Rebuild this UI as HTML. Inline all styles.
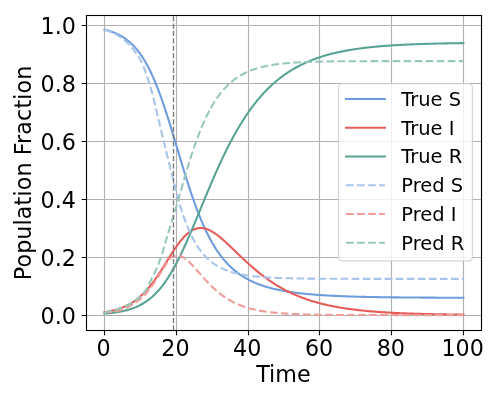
<!DOCTYPE html>
<html><head><meta charset="utf-8"><title>SIR</title>
<style>html,body{margin:0;padding:0;background:#fff;width:500px;height:400px;overflow:hidden}</style>
</head><body>
<svg width="500" height="400" viewBox="0 0 500 400" style="display:block;position:absolute;left:0;top:0">
<rect x="0" y="0" width="500" height="400" fill="#fff"/>
<path d="M104.50 15.5 V330.5 M176.50 15.5 V330.5 M248.50 15.5 V330.5 M319.50 15.5 V330.5 M391.50 15.5 V330.5 M463.50 15.5 V330.5 M86.5 315.50 H481.5 M86.5 257.50 H481.5 M86.5 199.50 H481.5 M86.5 141.50 H481.5 M86.5 83.50 H481.5 M86.5 25.50 H481.5" stroke="#b0b0b0" stroke-width="1.11" fill="none"/>
<path d="M104.50 330.5 v4.86 M176.50 330.5 v4.86 M248.50 330.5 v4.86 M319.50 330.5 v4.86 M391.50 330.5 v4.86 M463.50 330.5 v4.86 M86.5 315.50 h-4.86 M86.5 257.50 h-4.86 M86.5 199.50 h-4.86 M86.5 141.50 h-4.86 M86.5 83.50 h-4.86 M86.5 25.50 h-4.86" stroke="#000" stroke-width="1.11" fill="none"/>
<clipPath id="c"><rect x="86.5" y="15.5" width="395.0" height="315.0"/></clipPath>
<g clip-path="url(#c)" fill="none" stroke-linejoin="round">
<path d="M104.45 29.65 L105.35 29.87 L106.25 30.10 L107.14 30.34 L108.04 30.59 L108.94 30.86 L109.84 31.14 L110.73 31.43 L111.63 31.73 L112.53 32.05 L113.42 32.39 L114.32 32.74 L115.22 33.11 L116.12 33.50 L117.02 33.91 L117.91 34.33 L118.81 34.78 L119.71 35.24 L120.61 35.73 L121.50 36.24 L122.40 36.77 L123.30 37.33 L124.19 37.92 L125.09 38.53 L125.99 39.17 L126.89 39.83 L127.78 40.53 L128.68 41.26 L129.58 42.02 L130.48 42.81 L131.38 43.64 L132.27 44.51 L133.17 45.41 L134.07 46.34 L134.97 47.32 L135.86 48.34 L136.76 49.40 L137.66 50.50 L138.56 51.65 L139.45 52.84 L140.35 54.08 L141.25 55.37 L142.15 56.70 L143.04 58.09 L143.94 59.52 L144.84 61.01 L145.74 62.55 L146.63 64.14 L147.53 65.79 L148.43 67.50 L149.32 69.25 L150.22 71.07 L151.12 72.94 L152.02 74.87 L152.91 76.85 L153.81 78.89 L154.71 80.99 L155.61 83.14 L156.50 85.35 L157.40 87.62 L158.30 89.94 L159.20 92.31 L160.09 94.74 L160.99 97.21 L161.89 99.74 L162.79 102.32 L163.69 104.94 L164.58 107.60 L165.48 110.31 L166.38 113.06 L167.28 115.84 L168.17 118.66 L169.07 121.52 L169.97 124.40 L170.87 127.31 L171.76 130.24 L172.66 133.19 L173.56 136.17 L174.45 139.15 L175.35 142.14 L176.25 145.15 L177.15 148.15 L178.05 151.16 L178.94 154.16 L179.84 157.16 L180.74 160.15 L181.63 163.12 L182.53 166.08 L183.43 169.03 L184.33 171.95 L185.22 174.84 L186.12 177.71 L187.02 180.55 L187.92 183.36 L188.81 186.14 L189.71 188.88 L190.61 191.58 L191.51 194.24 L192.41 196.86 L193.30 199.44 L194.20 201.98 L195.10 204.47 L196.00 206.91 L196.89 209.31 L197.79 211.66 L198.69 213.96 L199.58 216.21 L200.48 218.41 L201.38 220.57 L202.28 222.67 L203.18 224.73 L204.07 226.74 L204.97 228.70 L205.87 230.61 L206.76 232.47 L207.66 234.28 L208.56 236.05 L209.46 237.77 L210.36 239.45 L211.25 241.08 L212.15 242.66 L213.05 244.21 L213.94 245.71 L214.84 247.16 L215.74 248.58 L216.64 249.96 L217.53 251.30 L218.43 252.59 L219.33 253.86 L220.23 255.08 L221.12 256.27 L222.02 257.42 L222.92 258.54 L223.82 259.63 L224.72 260.69 L225.61 261.71 L226.51 262.71 L227.41 263.67 L228.31 264.61 L229.20 265.51 L230.10 266.39 L231.00 267.25 L231.89 268.08 L232.79 268.88 L233.69 269.66 L234.59 270.42 L235.49 271.16 L236.38 271.87 L237.28 272.56 L238.18 273.23 L239.07 273.88 L239.97 274.52 L240.87 275.13 L241.77 275.73 L242.67 276.30 L243.56 276.87 L244.46 277.41 L245.36 277.94 L246.25 278.45 L247.15 278.95 L248.05 279.44 L248.95 279.91 L249.84 280.37 L250.74 280.81 L251.64 281.24 L252.54 281.66 L253.44 282.07 L254.33 282.47 L255.23 282.85 L256.13 283.22 L257.02 283.59 L257.92 283.94 L258.82 284.29 L259.72 284.62 L260.62 284.94 L261.51 285.26 L262.41 285.57 L263.31 285.87 L264.20 286.16 L265.10 286.44 L266.00 286.72 L266.90 286.98 L267.80 287.25 L268.69 287.50 L269.59 287.75 L270.49 287.99 L271.38 288.22 L272.28 288.45 L273.18 288.67 L274.08 288.89 L274.98 289.10 L275.87 289.30 L276.77 289.50 L277.67 289.70 L278.56 289.89 L279.46 290.07 L280.36 290.25 L281.26 290.43 L282.15 290.60 L283.05 290.77 L283.95 290.93 L284.85 291.09 L285.75 291.24 L286.64 291.39 L287.54 291.54 L288.44 291.68 L289.33 291.82 L290.23 291.96 L291.13 292.09 L292.03 292.22 L292.93 292.35 L293.82 292.47 L294.72 292.59 L295.62 292.71 L296.51 292.83 L297.41 292.94 L298.31 293.05 L299.21 293.16 L300.11 293.26 L301.00 293.36 L301.90 293.46 L302.80 293.56 L303.69 293.65 L304.59 293.74 L305.49 293.83 L306.39 293.92 L307.28 294.01 L308.18 294.09 L309.08 294.18 L309.98 294.26 L310.88 294.33 L311.77 294.41 L312.67 294.49 L313.57 294.56 L314.46 294.63 L315.36 294.70 L316.26 294.77 L317.16 294.83 L318.06 294.90 L318.95 294.96 L319.85 295.03 L320.75 295.09 L321.64 295.15 L322.54 295.20 L323.44 295.26 L324.34 295.32 L325.24 295.37 L326.13 295.42 L327.03 295.48 L327.93 295.53 L328.82 295.58 L329.72 295.62 L330.62 295.67 L331.52 295.72 L332.42 295.76 L333.31 295.81 L334.21 295.85 L335.11 295.89 L336.00 295.94 L336.90 295.98 L337.80 296.02 L338.70 296.05 L339.59 296.09 L340.49 296.13 L341.39 296.17 L342.29 296.20 L343.19 296.24 L344.08 296.27 L344.98 296.30 L345.88 296.34 L346.77 296.37 L347.67 296.40 L348.57 296.43 L349.47 296.46 L350.37 296.49 L351.26 296.52 L352.16 296.54 L353.06 296.57 L353.95 296.60 L354.85 296.63 L355.75 296.65 L356.65 296.68 L357.55 296.70 L358.44 296.72 L359.34 296.75 L360.24 296.77 L361.13 296.79 L362.03 296.82 L362.93 296.84 L363.83 296.86 L364.72 296.88 L365.62 296.90 L366.52 296.92 L367.42 296.94 L368.31 296.96 L369.21 296.98 L370.11 296.99 L371.01 297.01 L371.90 297.03 L372.80 297.05 L373.70 297.06 L374.60 297.08 L375.50 297.10 L376.39 297.11 L377.29 297.13 L378.19 297.14 L379.08 297.16 L379.98 297.17 L380.88 297.18 L381.78 297.20 L382.67 297.21 L383.57 297.22 L384.47 297.24 L385.37 297.25 L386.26 297.26 L387.16 297.28 L388.06 297.29 L388.96 297.30 L389.85 297.31 L390.75 297.32 L391.65 297.33 L392.55 297.34 L393.44 297.35 L394.34 297.36 L395.24 297.37 L396.14 297.38 L397.03 297.39 L397.93 297.40 L398.83 297.41 L399.73 297.42 L400.62 297.43 L401.52 297.44 L402.42 297.45 L403.32 297.46 L404.21 297.46 L405.11 297.47 L406.01 297.48 L406.91 297.49 L407.80 297.49 L408.70 297.50 L409.60 297.51 L410.50 297.52 L411.39 297.52 L412.29 297.53 L413.19 297.54 L414.09 297.54 L414.98 297.55 L415.88 297.56 L416.78 297.56 L417.68 297.57 L418.57 297.57 L419.47 297.58 L420.37 297.58 L421.27 297.59 L422.16 297.60 L423.06 297.60 L423.96 297.61 L424.86 297.61 L425.75 297.62 L426.65 297.62 L427.55 297.63 L428.45 297.63 L429.34 297.63 L430.24 297.64 L431.14 297.64 L432.04 297.65 L432.94 297.65 L433.83 297.66 L434.73 297.66 L435.63 297.66 L436.52 297.67 L437.42 297.67 L438.32 297.68 L439.22 297.68 L440.11 297.68 L441.01 297.69 L441.91 297.69 L442.81 297.69 L443.70 297.70 L444.60 297.70 L445.50 297.70 L446.40 297.71 L447.29 297.71 L448.19 297.71 L449.09 297.71 L449.99 297.72 L450.88 297.72 L451.78 297.72 L452.68 297.73 L453.58 297.73 L454.47 297.73 L455.37 297.73 L456.27 297.74 L457.17 297.74 L458.06 297.74 L458.96 297.74 L459.86 297.74 L460.76 297.75 L461.65 297.75 L462.55 297.75 L463.45 297.75" stroke="#6e9cdc" stroke-width="2.08" stroke-linecap="square"/>
<path d="M104.45 312.20 L105.35 312.06 L106.25 311.90 L107.14 311.75 L108.04 311.58 L108.94 311.40 L109.84 311.22 L110.73 311.03 L111.63 310.82 L112.53 310.61 L113.42 310.39 L114.32 310.16 L115.22 309.92 L116.12 309.66 L117.02 309.39 L117.91 309.12 L118.81 308.82 L119.71 308.52 L120.61 308.20 L121.50 307.87 L122.40 307.52 L123.30 307.15 L124.19 306.77 L125.09 306.37 L125.99 305.96 L126.89 305.53 L127.78 305.07 L128.68 304.60 L129.58 304.11 L130.48 303.60 L131.38 303.06 L132.27 302.51 L133.17 301.93 L134.07 301.33 L134.97 300.70 L135.86 300.05 L136.76 299.38 L137.66 298.67 L138.56 297.95 L139.45 297.19 L140.35 296.41 L141.25 295.60 L142.15 294.77 L143.04 293.90 L143.94 293.01 L144.84 292.08 L145.74 291.13 L146.63 290.15 L147.53 289.13 L148.43 288.09 L149.32 287.02 L150.22 285.93 L151.12 284.80 L152.02 283.64 L152.91 282.46 L153.81 281.25 L154.71 280.01 L155.61 278.75 L156.50 277.47 L157.40 276.16 L158.30 274.83 L159.20 273.48 L160.09 272.11 L160.99 270.73 L161.89 269.33 L162.79 267.91 L163.69 266.49 L164.58 265.06 L165.48 263.62 L166.38 262.18 L167.28 260.73 L168.17 259.29 L169.07 257.85 L169.97 256.41 L170.87 254.99 L171.76 253.58 L172.66 252.18 L173.56 250.80 L174.45 249.44 L175.35 248.11 L176.25 246.80 L177.15 245.51 L178.05 244.26 L178.94 243.04 L179.84 241.86 L180.74 240.72 L181.63 239.62 L182.53 238.56 L183.43 237.54 L184.33 236.57 L185.22 235.65 L186.12 234.78 L187.02 233.95 L187.92 233.18 L188.81 232.47 L189.71 231.80 L190.61 231.19 L191.51 230.63 L192.41 230.13 L193.30 229.68 L194.20 229.29 L195.10 228.95 L196.00 228.66 L196.89 228.43 L197.79 228.25 L198.69 228.12 L199.58 228.04 L200.48 228.02 L201.38 228.04 L202.28 228.11 L203.18 228.22 L204.07 228.39 L204.97 228.59 L205.87 228.84 L206.76 229.13 L207.66 229.46 L208.56 229.83 L209.46 230.24 L210.36 230.68 L211.25 231.15 L212.15 231.66 L213.05 232.20 L213.94 232.76 L214.84 233.36 L215.74 233.97 L216.64 234.62 L217.53 235.28 L218.43 235.97 L219.33 236.68 L220.23 237.41 L221.12 238.15 L222.02 238.91 L222.92 239.69 L223.82 240.47 L224.72 241.27 L225.61 242.09 L226.51 242.91 L227.41 243.74 L228.31 244.57 L229.20 245.42 L230.10 246.27 L231.00 247.13 L231.89 247.98 L232.79 248.85 L233.69 249.71 L234.59 250.58 L235.49 251.45 L236.38 252.31 L237.28 253.18 L238.18 254.05 L239.07 254.91 L239.97 255.77 L240.87 256.63 L241.77 257.48 L242.67 258.34 L243.56 259.18 L244.46 260.03 L245.36 260.86 L246.25 261.69 L247.15 262.52 L248.05 263.34 L248.95 264.15 L249.84 264.96 L250.74 265.76 L251.64 266.55 L252.54 267.33 L253.44 268.11 L254.33 268.88 L255.23 269.64 L256.13 270.39 L257.02 271.14 L257.92 271.88 L258.82 272.60 L259.72 273.32 L260.62 274.03 L261.51 274.73 L262.41 275.43 L263.31 276.11 L264.20 276.79 L265.10 277.45 L266.00 278.11 L266.90 278.76 L267.80 279.40 L268.69 280.03 L269.59 280.65 L270.49 281.26 L271.38 281.87 L272.28 282.46 L273.18 283.05 L274.08 283.63 L274.98 284.20 L275.87 284.76 L276.77 285.31 L277.67 285.85 L278.56 286.39 L279.46 286.91 L280.36 287.43 L281.26 287.94 L282.15 288.44 L283.05 288.94 L283.95 289.42 L284.85 289.90 L285.75 290.37 L286.64 290.83 L287.54 291.28 L288.44 291.73 L289.33 292.17 L290.23 292.60 L291.13 293.02 L292.03 293.44 L292.93 293.85 L293.82 294.25 L294.72 294.65 L295.62 295.04 L296.51 295.42 L297.41 295.79 L298.31 296.16 L299.21 296.53 L300.11 296.88 L301.00 297.23 L301.90 297.57 L302.80 297.91 L303.69 298.24 L304.59 298.57 L305.49 298.89 L306.39 299.20 L307.28 299.51 L308.18 299.81 L309.08 300.10 L309.98 300.40 L310.88 300.68 L311.77 300.96 L312.67 301.24 L313.57 301.51 L314.46 301.77 L315.36 302.03 L316.26 302.29 L317.16 302.54 L318.06 302.78 L318.95 303.03 L319.85 303.26 L320.75 303.49 L321.64 303.72 L322.54 303.95 L323.44 304.16 L324.34 304.38 L325.24 304.59 L326.13 304.80 L327.03 305.00 L327.93 305.20 L328.82 305.40 L329.72 305.59 L330.62 305.78 L331.52 305.96 L332.42 306.14 L333.31 306.32 L334.21 306.49 L335.11 306.66 L336.00 306.83 L336.90 306.99 L337.80 307.16 L338.70 307.31 L339.59 307.47 L340.49 307.62 L341.39 307.77 L342.29 307.91 L343.19 308.06 L344.08 308.20 L344.98 308.34 L345.88 308.47 L346.77 308.60 L347.67 308.73 L348.57 308.86 L349.47 308.98 L350.37 309.11 L351.26 309.23 L352.16 309.34 L353.06 309.46 L353.95 309.57 L354.85 309.68 L355.75 309.79 L356.65 309.90 L357.55 310.00 L358.44 310.10 L359.34 310.20 L360.24 310.30 L361.13 310.40 L362.03 310.49 L362.93 310.58 L363.83 310.68 L364.72 310.76 L365.62 310.85 L366.52 310.94 L367.42 311.02 L368.31 311.10 L369.21 311.18 L370.11 311.26 L371.01 311.34 L371.90 311.41 L372.80 311.49 L373.70 311.56 L374.60 311.63 L375.50 311.70 L376.39 311.77 L377.29 311.84 L378.19 311.90 L379.08 311.97 L379.98 312.03 L380.88 312.09 L381.78 312.15 L382.67 312.21 L383.57 312.27 L384.47 312.33 L385.37 312.38 L386.26 312.44 L387.16 312.49 L388.06 312.54 L388.96 312.60 L389.85 312.65 L390.75 312.70 L391.65 312.75 L392.55 312.79 L393.44 312.84 L394.34 312.88 L395.24 312.93 L396.14 312.97 L397.03 313.02 L397.93 313.06 L398.83 313.10 L399.73 313.14 L400.62 313.18 L401.52 313.22 L402.42 313.26 L403.32 313.29 L404.21 313.33 L405.11 313.37 L406.01 313.40 L406.91 313.44 L407.80 313.47 L408.70 313.50 L409.60 313.53 L410.50 313.57 L411.39 313.60 L412.29 313.63 L413.19 313.66 L414.09 313.69 L414.98 313.72 L415.88 313.74 L416.78 313.77 L417.68 313.80 L418.57 313.82 L419.47 313.85 L420.37 313.88 L421.27 313.90 L422.16 313.92 L423.06 313.95 L423.96 313.97 L424.86 313.99 L425.75 314.02 L426.65 314.04 L427.55 314.06 L428.45 314.08 L429.34 314.10 L430.24 314.12 L431.14 314.14 L432.04 314.16 L432.94 314.18 L433.83 314.20 L434.73 314.22 L435.63 314.24 L436.52 314.25 L437.42 314.27 L438.32 314.29 L439.22 314.30 L440.11 314.32 L441.01 314.34 L441.91 314.35 L442.81 314.37 L443.70 314.38 L444.60 314.40 L445.50 314.41 L446.40 314.42 L447.29 314.44 L448.19 314.45 L449.09 314.46 L449.99 314.48 L450.88 314.49 L451.78 314.50 L452.68 314.51 L453.58 314.53 L454.47 314.54 L455.37 314.55 L456.27 314.56 L457.17 314.57 L458.06 314.58 L458.96 314.59 L459.86 314.60 L460.76 314.61 L461.65 314.62 L462.55 314.63 L463.45 314.64" stroke="#e65c58" stroke-width="2.08" stroke-linecap="square"/>
<path d="M104.45 313.65 L105.35 313.58 L106.25 313.50 L107.14 313.42 L108.04 313.33 L108.94 313.24 L109.84 313.15 L110.73 313.05 L111.63 312.94 L112.53 312.83 L113.42 312.72 L114.32 312.60 L115.22 312.47 L116.12 312.34 L117.02 312.20 L117.91 312.05 L118.81 311.90 L119.71 311.74 L120.61 311.57 L121.50 311.39 L122.40 311.21 L123.30 311.01 L124.19 310.81 L125.09 310.60 L125.99 310.37 L126.89 310.14 L127.78 309.90 L128.68 309.64 L129.58 309.37 L130.48 309.09 L131.38 308.79 L132.27 308.49 L133.17 308.17 L134.07 307.83 L134.97 307.48 L135.86 307.11 L136.76 306.72 L137.66 306.32 L138.56 305.90 L139.45 305.46 L140.35 305.01 L141.25 304.53 L142.15 304.03 L143.04 303.51 L143.94 302.97 L144.84 302.41 L145.74 301.82 L146.63 301.21 L147.53 300.57 L148.43 299.91 L149.32 299.22 L150.22 298.51 L151.12 297.76 L152.02 296.99 L152.91 296.19 L153.81 295.36 L154.71 294.50 L155.61 293.60 L156.50 292.68 L157.40 291.72 L158.30 290.73 L159.20 289.71 L160.09 288.65 L160.99 287.56 L161.89 286.43 L162.79 285.27 L163.69 284.07 L164.58 282.84 L165.48 281.57 L166.38 280.27 L167.28 278.92 L168.17 277.55 L169.07 276.13 L169.97 274.68 L170.87 273.20 L171.76 271.68 L172.66 270.12 L173.56 268.53 L174.45 266.91 L175.35 265.25 L176.25 263.56 L177.15 261.84 L178.05 260.08 L178.94 258.29 L179.84 256.48 L180.74 254.63 L181.63 252.76 L182.53 250.86 L183.43 248.93 L184.33 246.98 L185.22 245.01 L186.12 243.01 L187.02 240.99 L187.92 238.95 L188.81 236.90 L189.71 234.82 L190.61 232.73 L191.51 230.63 L192.41 228.51 L193.30 226.38 L194.20 224.24 L195.10 222.09 L196.00 219.93 L196.89 217.77 L197.79 215.60 L198.69 213.42 L199.58 211.25 L200.48 209.07 L201.38 206.89 L202.28 204.72 L203.18 202.54 L204.07 200.38 L204.97 198.21 L205.87 196.05 L206.76 193.90 L207.66 191.75 L208.56 189.62 L209.46 187.49 L210.36 185.37 L211.25 183.27 L212.15 181.18 L213.05 179.10 L213.94 177.03 L214.84 174.98 L215.74 172.94 L216.64 170.92 L217.53 168.92 L218.43 166.93 L219.33 164.96 L220.23 163.01 L221.12 161.08 L222.02 159.17 L222.92 157.27 L223.82 155.39 L224.72 153.54 L225.61 151.70 L226.51 149.89 L227.41 148.09 L228.31 146.32 L229.20 144.57 L230.10 142.84 L231.00 141.13 L231.89 139.44 L232.79 137.77 L233.69 136.12 L234.59 134.50 L235.49 132.90 L236.38 131.32 L237.28 129.76 L238.18 128.22 L239.07 126.71 L239.97 125.21 L240.87 123.74 L241.77 122.29 L242.67 120.86 L243.56 119.45 L244.46 118.06 L245.36 116.70 L246.25 115.35 L247.15 114.03 L248.05 112.72 L248.95 111.44 L249.84 110.18 L250.74 108.93 L251.64 107.71 L252.54 106.50 L253.44 105.32 L254.33 104.15 L255.23 103.01 L256.13 101.88 L257.02 100.77 L257.92 99.68 L258.82 98.61 L259.72 97.56 L260.62 96.52 L261.51 95.51 L262.41 94.50 L263.31 93.52 L264.20 92.56 L265.10 91.61 L266.00 90.67 L266.90 89.76 L267.80 88.86 L268.69 87.97 L269.59 87.10 L270.49 86.25 L271.38 85.41 L272.28 84.59 L273.18 83.78 L274.08 82.98 L274.98 82.20 L275.87 81.44 L276.77 80.69 L277.67 79.95 L278.56 79.22 L279.46 78.51 L280.36 77.82 L281.26 77.13 L282.15 76.46 L283.05 75.80 L283.95 75.15 L284.85 74.51 L285.75 73.89 L286.64 73.28 L287.54 72.68 L288.44 72.09 L289.33 71.51 L290.23 70.94 L291.13 70.38 L292.03 69.84 L292.93 69.30 L293.82 68.77 L294.72 68.26 L295.62 67.75 L296.51 67.25 L297.41 66.77 L298.31 66.29 L299.21 65.82 L300.11 65.36 L301.00 64.91 L301.90 64.47 L302.80 64.03 L303.69 63.61 L304.59 63.19 L305.49 62.78 L306.39 62.38 L307.28 61.98 L308.18 61.60 L309.08 61.22 L309.98 60.85 L310.88 60.48 L311.77 60.13 L312.67 59.78 L313.57 59.43 L314.46 59.10 L315.36 58.77 L316.26 58.44 L317.16 58.13 L318.06 57.82 L318.95 57.51 L319.85 57.21 L320.75 56.92 L321.64 56.63 L322.54 56.35 L323.44 56.07 L324.34 55.80 L325.24 55.54 L326.13 55.28 L327.03 55.02 L327.93 54.77 L328.82 54.53 L329.72 54.29 L330.62 54.05 L331.52 53.82 L332.42 53.60 L333.31 53.37 L334.21 53.16 L335.11 52.94 L336.00 52.73 L336.90 52.53 L337.80 52.33 L338.70 52.13 L339.59 51.94 L340.49 51.75 L341.39 51.57 L342.29 51.38 L343.19 51.21 L344.08 51.03 L344.98 50.86 L345.88 50.69 L346.77 50.53 L347.67 50.37 L348.57 50.21 L349.47 50.06 L350.37 49.91 L351.26 49.76 L352.16 49.61 L353.06 49.47 L353.95 49.33 L354.85 49.19 L355.75 49.06 L356.65 48.93 L357.55 48.80 L358.44 48.67 L359.34 48.55 L360.24 48.43 L361.13 48.31 L362.03 48.19 L362.93 48.08 L363.83 47.97 L364.72 47.86 L365.62 47.75 L366.52 47.64 L367.42 47.54 L368.31 47.44 L369.21 47.34 L370.11 47.24 L371.01 47.15 L371.90 47.06 L372.80 46.97 L373.70 46.88 L374.60 46.79 L375.50 46.70 L376.39 46.62 L377.29 46.54 L378.19 46.46 L379.08 46.38 L379.98 46.30 L380.88 46.22 L381.78 46.15 L382.67 46.08 L383.57 46.00 L384.47 45.93 L385.37 45.87 L386.26 45.80 L387.16 45.73 L388.06 45.67 L388.96 45.60 L389.85 45.54 L390.75 45.48 L391.65 45.42 L392.55 45.36 L393.44 45.31 L394.34 45.25 L395.24 45.20 L396.14 45.14 L397.03 45.09 L397.93 45.04 L398.83 44.99 L399.73 44.94 L400.62 44.89 L401.52 44.84 L402.42 44.80 L403.32 44.75 L404.21 44.71 L405.11 44.66 L406.01 44.62 L406.91 44.58 L407.80 44.54 L408.70 44.50 L409.60 44.46 L410.50 44.42 L411.39 44.38 L412.29 44.34 L413.19 44.31 L414.09 44.27 L414.98 44.24 L415.88 44.20 L416.78 44.17 L417.68 44.13 L418.57 44.10 L419.47 44.07 L420.37 44.04 L421.27 44.01 L422.16 43.98 L423.06 43.95 L423.96 43.92 L424.86 43.89 L425.75 43.87 L426.65 43.84 L427.55 43.81 L428.45 43.79 L429.34 43.76 L430.24 43.74 L431.14 43.71 L432.04 43.69 L432.94 43.67 L433.83 43.64 L434.73 43.62 L435.63 43.60 L436.52 43.58 L437.42 43.56 L438.32 43.54 L439.22 43.52 L440.11 43.50 L441.01 43.48 L441.91 43.46 L442.81 43.44 L443.70 43.42 L444.60 43.40 L445.50 43.39 L446.40 43.37 L447.29 43.35 L448.19 43.34 L449.09 43.32 L449.99 43.31 L450.88 43.29 L451.78 43.27 L452.68 43.26 L453.58 43.25 L454.47 43.23 L455.37 43.22 L456.27 43.20 L457.17 43.19 L458.06 43.18 L458.96 43.16 L459.86 43.15 L460.76 43.14 L461.65 43.13 L462.55 43.12 L463.45 43.10" stroke="#58a394" stroke-width="2.08" stroke-linecap="square"/>
<path d="M104.45 29.65 L105.35 29.93 L106.25 30.24 L107.14 30.56 L108.04 30.90 L108.94 31.26 L109.84 31.64 L110.73 32.02 L111.63 32.43 L112.53 32.84 L113.42 33.27 L114.32 33.71 L115.22 34.16 L116.12 34.63 L117.02 35.12 L117.91 35.63 L118.81 36.17 L119.71 36.74 L120.61 37.33 L121.50 37.96 L122.40 38.63 L123.30 39.33 L124.19 40.06 L125.09 40.82 L125.99 41.61 L126.89 42.44 L127.78 43.30 L128.68 44.20 L129.58 45.13 L130.48 46.11 L131.38 47.12 L132.27 48.17 L133.17 49.27 L134.07 50.42 L134.97 51.61 L135.86 52.84 L136.76 54.13 L137.66 55.46 L138.56 56.85 L139.45 58.29 L140.35 59.79 L141.25 61.42 L142.15 63.28 L143.04 65.33 L143.94 67.55 L144.84 69.92 L145.74 72.42 L146.63 75.03 L147.53 77.72 L148.43 80.47 L149.32 83.26 L150.22 86.16 L151.12 89.25 L152.02 92.51 L152.91 95.91 L153.81 99.44 L154.71 103.09 L155.61 106.82 L156.50 110.62 L157.40 114.47 L158.30 118.35 L159.20 122.25 L160.09 126.13 L160.99 130.00 L161.89 133.81 L162.79 137.56 L163.69 141.22 L164.58 144.83 L165.48 148.45 L166.38 152.06 L167.28 155.67 L168.17 159.28 L169.07 162.88 L169.97 166.49 L170.87 170.09 L171.76 173.70 L172.66 177.30 L173.56 180.90 L174.45 184.51 L175.35 188.11 L176.25 191.70 L177.15 195.30 L177.33 196.02 L178.05 198.57 L178.94 201.68 L179.84 204.70 L180.74 207.62 L181.63 210.46 L182.53 213.19 L183.43 215.84 L184.33 218.39 L185.22 220.86 L186.12 223.23 L187.02 225.51 L187.92 227.71 L188.81 229.82 L189.71 231.85 L190.61 233.80 L191.51 235.67 L192.41 237.47 L193.30 239.19 L194.20 240.84 L195.10 242.43 L196.00 243.94 L196.89 245.39 L197.79 246.79 L198.69 248.12 L199.58 249.39 L200.48 250.62 L201.38 251.79 L202.28 252.90 L203.18 253.98 L204.07 255.00 L204.97 255.98 L205.87 256.92 L206.76 257.82 L207.66 258.68 L208.56 259.51 L209.46 260.30 L210.36 261.05 L211.25 261.77 L212.15 262.47 L213.05 263.13 L213.94 263.76 L214.84 264.37 L215.74 264.95 L216.64 265.51 L217.53 266.05 L218.43 266.56 L219.33 267.05 L220.23 267.52 L221.12 267.97 L222.02 268.40 L222.92 268.82 L223.82 269.21 L224.72 269.59 L225.61 269.96 L226.51 270.31 L227.41 270.65 L228.31 270.97 L229.20 271.28 L230.10 271.57 L231.00 271.86 L231.89 272.13 L232.79 272.39 L233.69 272.64 L234.59 272.89 L235.49 273.12 L236.38 273.34 L237.28 273.55 L238.18 273.76 L239.07 273.96 L239.97 274.14 L240.87 274.33 L241.77 274.50 L242.67 274.67 L243.56 274.83 L244.46 274.98 L245.36 275.13 L246.25 275.28 L247.15 275.41 L248.05 275.55 L248.95 275.67 L249.84 275.79 L250.74 275.91 L251.64 276.02 L252.54 276.13 L253.44 276.24 L254.33 276.34 L255.23 276.43 L256.13 276.52 L257.02 276.61 L257.92 276.70 L258.82 276.78 L259.72 276.86 L260.62 276.94 L261.51 277.01 L262.41 277.08 L263.31 277.15 L264.20 277.21 L265.10 277.28 L266.00 277.34 L266.90 277.39 L267.80 277.45 L268.69 277.50 L269.59 277.55 L270.49 277.60 L271.38 277.65 L272.28 277.70 L273.18 277.74 L274.08 277.78 L274.98 277.83 L275.87 277.86 L276.77 277.90 L277.67 277.94 L278.56 277.97 L279.46 278.01 L280.36 278.04 L281.26 278.07 L282.15 278.10 L283.05 278.13 L283.95 278.16 L284.85 278.19 L285.75 278.21 L286.64 278.24 L287.54 278.26 L288.44 278.28 L289.33 278.30 L290.23 278.33 L291.13 278.35 L292.03 278.37 L292.93 278.39 L293.82 278.40 L294.72 278.42 L295.62 278.44 L296.51 278.45 L297.41 278.47 L298.31 278.48 L299.21 278.50 L300.11 278.51 L301.00 278.53 L301.90 278.54 L302.80 278.55 L303.69 278.56 L304.59 278.58 L305.49 278.59 L306.39 278.60 L307.28 278.61 L308.18 278.62 L309.08 278.63 L309.98 278.64 L310.88 278.65 L311.77 278.65 L312.67 278.66 L313.57 278.67 L314.46 278.68 L315.36 278.69 L316.26 278.69 L317.16 278.70 L318.06 278.71 L318.95 278.71 L319.85 278.72 L320.75 278.72 L321.64 278.73 L322.54 278.73 L323.44 278.74 L324.34 278.74 L325.24 278.75 L326.13 278.75 L327.03 278.76 L327.93 278.76 L328.82 278.77 L329.72 278.77 L330.62 278.77 L331.52 278.78 L332.42 278.78 L333.31 278.79 L334.21 278.79 L335.11 278.79 L336.00 278.80 L336.90 278.80 L337.80 278.80 L338.70 278.80 L339.59 278.81 L340.49 278.81 L341.39 278.81 L342.29 278.81 L343.19 278.82 L344.08 278.82 L344.98 278.82 L345.88 278.82 L346.77 278.82 L347.67 278.83 L348.57 278.83 L349.47 278.83 L350.37 278.83 L351.26 278.83 L352.16 278.83 L353.06 278.84 L353.95 278.84 L354.85 278.84 L355.75 278.84 L356.65 278.84 L357.55 278.84 L358.44 278.84 L359.34 278.84 L360.24 278.85 L361.13 278.85 L362.03 278.85 L362.93 278.85 L363.83 278.85 L364.72 278.85 L365.62 278.85 L366.52 278.85 L367.42 278.85 L368.31 278.85 L369.21 278.85 L370.11 278.86 L371.01 278.86 L371.90 278.86 L372.80 278.86 L373.70 278.86 L374.60 278.86 L375.50 278.86 L376.39 278.86 L377.29 278.86 L378.19 278.86 L379.08 278.86 L379.98 278.86 L380.88 278.86 L381.78 278.86 L382.67 278.86 L383.57 278.86 L384.47 278.86 L385.37 278.86 L386.26 278.86 L387.16 278.86 L388.06 278.87 L388.96 278.87 L389.85 278.87 L390.75 278.87 L391.65 278.87 L392.55 278.87 L393.44 278.87 L394.34 278.87 L395.24 278.87 L396.14 278.87 L397.03 278.87 L397.93 278.87 L398.83 278.87 L399.73 278.87 L400.62 278.87 L401.52 278.87 L402.42 278.87 L403.32 278.87 L404.21 278.87 L405.11 278.87 L406.01 278.87 L406.91 278.87 L407.80 278.87 L408.70 278.87 L409.60 278.87 L410.50 278.87 L411.39 278.87 L412.29 278.87 L413.19 278.87 L414.09 278.87 L414.98 278.87 L415.88 278.87 L416.78 278.87 L417.68 278.87 L418.57 278.87 L419.47 278.87 L420.37 278.87 L421.27 278.87 L422.16 278.87 L423.06 278.87 L423.96 278.87 L424.86 278.87 L425.75 278.87 L426.65 278.87 L427.55 278.87 L428.45 278.87 L429.34 278.87 L430.24 278.87 L431.14 278.87 L432.04 278.87 L432.94 278.87 L433.83 278.87 L434.73 278.87 L435.63 278.87 L436.52 278.87 L437.42 278.87 L438.32 278.87 L439.22 278.87 L440.11 278.87 L441.01 278.87 L441.91 278.87 L442.81 278.87 L443.70 278.87 L444.60 278.87 L445.50 278.87 L446.40 278.87 L447.29 278.87 L448.19 278.87 L449.09 278.87 L449.99 278.87 L450.88 278.87 L451.78 278.87 L452.68 278.87 L453.58 278.87 L454.47 278.87 L455.37 278.87 L456.27 278.87 L457.17 278.87 L458.06 278.87 L458.96 278.87 L459.86 278.87 L460.76 278.87 L461.65 278.87 L462.55 278.87 L463.45 278.87" stroke="#a8c4ea" stroke-opacity="1" stroke-width="2.08" stroke-dasharray="7.7 3.33"/>
<path d="M104.45 312.20 L105.35 312.20 L106.25 312.19 L107.14 312.17 L108.04 312.16 L108.94 312.13 L109.84 312.09 L110.73 312.04 L111.63 311.98 L112.53 311.90 L113.42 311.78 L114.32 311.62 L115.22 311.44 L116.12 311.24 L117.02 311.02 L117.91 310.80 L118.81 310.56 L119.71 310.31 L120.61 310.03 L121.50 309.73 L122.40 309.40 L123.30 309.05 L124.19 308.67 L125.09 308.28 L125.99 307.88 L126.89 307.46 L127.78 307.02 L128.68 306.58 L129.58 306.14 L130.48 305.67 L131.38 305.18 L132.27 304.66 L133.17 304.11 L134.07 303.54 L134.97 302.94 L135.86 302.33 L136.76 301.69 L137.66 301.04 L138.56 300.35 L139.45 299.64 L140.35 298.90 L141.25 298.12 L142.15 297.32 L143.04 296.48 L143.94 295.61 L144.84 294.70 L145.74 293.73 L146.63 292.71 L147.53 291.66 L148.43 290.56 L149.32 289.44 L150.22 288.29 L151.12 287.12 L152.02 285.91 L152.91 284.66 L153.81 283.37 L154.71 282.04 L155.61 280.69 L156.50 279.32 L157.40 277.95 L158.30 276.57 L159.20 275.17 L160.09 273.73 L160.99 272.28 L161.89 270.80 L162.79 269.33 L163.69 267.88 L164.58 266.45 L165.48 265.07 L166.38 263.64 L167.28 262.15 L168.17 260.71 L169.07 259.44 L169.97 258.46 L170.87 257.76 L171.76 257.18 L172.66 256.72 L173.56 256.38 L174.45 256.09 L175.35 255.84 L176.25 255.66 L177.15 255.55 L177.33 255.55 L178.05 255.59 L178.94 255.71 L179.84 255.92 L180.74 256.21 L181.63 256.58 L182.53 257.01 L183.43 257.51 L184.33 258.08 L185.22 258.70 L186.12 259.38 L187.02 260.11 L187.92 260.88 L188.81 261.70 L189.71 262.55 L190.61 263.44 L191.51 264.35 L192.41 265.30 L193.30 266.26 L194.20 267.24 L195.10 268.23 L196.00 269.24 L196.89 270.26 L197.79 271.28 L198.69 272.30 L199.58 273.33 L200.48 274.35 L201.38 275.37 L202.28 276.39 L203.18 277.40 L204.07 278.40 L204.97 279.38 L205.87 280.36 L206.76 281.33 L207.66 282.28 L208.56 283.22 L209.46 284.14 L210.36 285.04 L211.25 285.93 L212.15 286.80 L213.05 287.66 L213.94 288.49 L214.84 289.31 L215.74 290.11 L216.64 290.89 L217.53 291.65 L218.43 292.40 L219.33 293.12 L220.23 293.83 L221.12 294.52 L222.02 295.19 L222.92 295.84 L223.82 296.47 L224.72 297.09 L225.61 297.69 L226.51 298.27 L227.41 298.83 L228.31 299.38 L229.20 299.91 L230.10 300.43 L231.00 300.93 L231.89 301.41 L232.79 301.88 L233.69 302.34 L234.59 302.78 L235.49 303.21 L236.38 303.62 L237.28 304.02 L238.18 304.41 L239.07 304.78 L239.97 305.15 L240.87 305.50 L241.77 305.83 L242.67 306.16 L243.56 306.48 L244.46 306.79 L245.36 307.08 L246.25 307.37 L247.15 307.64 L248.05 307.91 L248.95 308.17 L249.84 308.42 L250.74 308.66 L251.64 308.89 L252.54 309.11 L253.44 309.33 L254.33 309.54 L255.23 309.74 L256.13 309.93 L257.02 310.12 L257.92 310.30 L258.82 310.47 L259.72 310.64 L260.62 310.80 L261.51 310.96 L262.41 311.11 L263.31 311.26 L264.20 311.40 L265.10 311.53 L266.00 311.66 L266.90 311.79 L267.80 311.91 L268.69 312.03 L269.59 312.14 L270.49 312.25 L271.38 312.35 L272.28 312.45 L273.18 312.55 L274.08 312.64 L274.98 312.73 L275.87 312.82 L276.77 312.90 L277.67 312.99 L278.56 313.06 L279.46 313.14 L280.36 313.21 L281.26 313.28 L282.15 313.35 L283.05 313.41 L283.95 313.47 L284.85 313.53 L285.75 313.59 L286.64 313.65 L287.54 313.70 L288.44 313.75 L289.33 313.80 L290.23 313.85 L291.13 313.90 L292.03 313.94 L292.93 313.98 L293.82 314.03 L294.72 314.07 L295.62 314.10 L296.51 314.14 L297.41 314.18 L298.31 314.21 L299.21 314.24 L300.11 314.28 L301.00 314.31 L301.90 314.34 L302.80 314.36 L303.69 314.39 L304.59 314.42 L305.49 314.44 L306.39 314.47 L307.28 314.49 L308.18 314.51 L309.08 314.54 L309.98 314.56 L310.88 314.58 L311.77 314.60 L312.67 314.61 L313.57 314.63 L314.46 314.65 L315.36 314.67 L316.26 314.68 L317.16 314.70 L318.06 314.71 L318.95 314.73 L319.85 314.74 L320.75 314.75 L321.64 314.77 L322.54 314.78 L323.44 314.79 L324.34 314.80 L325.24 314.81 L326.13 314.82 L327.03 314.84 L327.93 314.85 L328.82 314.85 L329.72 314.86 L330.62 314.87 L331.52 314.88 L332.42 314.89 L333.31 314.90 L334.21 314.90 L335.11 314.91 L336.00 314.92 L336.90 314.93 L337.80 314.93 L338.70 314.94 L339.59 314.94 L340.49 314.95 L341.39 314.96 L342.29 314.96 L343.19 314.97 L344.08 314.97 L344.98 314.98 L345.88 314.98 L346.77 314.99 L347.67 314.99 L348.57 314.99 L349.47 315.00 L350.37 315.00 L351.26 315.00 L352.16 315.01 L353.06 315.01 L353.95 315.02 L354.85 315.02 L355.75 315.02 L356.65 315.02 L357.55 315.03 L358.44 315.03 L359.34 315.03 L360.24 315.03 L361.13 315.04 L362.03 315.04 L362.93 315.04 L363.83 315.04 L364.72 315.05 L365.62 315.05 L366.52 315.05 L367.42 315.05 L368.31 315.05 L369.21 315.06 L370.11 315.06 L371.01 315.06 L371.90 315.06 L372.80 315.06 L373.70 315.06 L374.60 315.06 L375.50 315.07 L376.39 315.07 L377.29 315.07 L378.19 315.07 L379.08 315.07 L379.98 315.07 L380.88 315.07 L381.78 315.07 L382.67 315.07 L383.57 315.08 L384.47 315.08 L385.37 315.08 L386.26 315.08 L387.16 315.08 L388.06 315.08 L388.96 315.08 L389.85 315.08 L390.75 315.08 L391.65 315.08 L392.55 315.08 L393.44 315.08 L394.34 315.08 L395.24 315.09 L396.14 315.09 L397.03 315.09 L397.93 315.09 L398.83 315.09 L399.73 315.09 L400.62 315.09 L401.52 315.09 L402.42 315.09 L403.32 315.09 L404.21 315.09 L405.11 315.09 L406.01 315.09 L406.91 315.09 L407.80 315.09 L408.70 315.09 L409.60 315.09 L410.50 315.09 L411.39 315.09 L412.29 315.09 L413.19 315.09 L414.09 315.09 L414.98 315.09 L415.88 315.09 L416.78 315.09 L417.68 315.09 L418.57 315.09 L419.47 315.09 L420.37 315.09 L421.27 315.10 L422.16 315.10 L423.06 315.10 L423.96 315.10 L424.86 315.10 L425.75 315.10 L426.65 315.10 L427.55 315.10 L428.45 315.10 L429.34 315.10 L430.24 315.10 L431.14 315.10 L432.04 315.10 L432.94 315.10 L433.83 315.10 L434.73 315.10 L435.63 315.10 L436.52 315.10 L437.42 315.10 L438.32 315.10 L439.22 315.10 L440.11 315.10 L441.01 315.10 L441.91 315.10 L442.81 315.10 L443.70 315.10 L444.60 315.10 L445.50 315.10 L446.40 315.10 L447.29 315.10 L448.19 315.10 L449.09 315.10 L449.99 315.10 L450.88 315.10 L451.78 315.10 L452.68 315.10 L453.58 315.10 L454.47 315.10 L455.37 315.10 L456.27 315.10 L457.17 315.10 L458.06 315.10 L458.96 315.10 L459.86 315.10 L460.76 315.10 L461.65 315.10 L462.55 315.10 L463.45 315.10" stroke="#f09d99" stroke-opacity="1" stroke-width="2.08" stroke-dasharray="7.7 3.33"/>
<path d="M104.45 313.65 L105.35 312.89 L106.25 312.27 L107.14 311.86 L108.04 311.61 L108.94 311.41 L109.84 311.22 L110.73 311.01 L111.63 310.80 L112.53 310.60 L113.42 310.38 L114.32 310.16 L115.22 309.92 L116.12 309.65 L117.02 309.38 L117.91 309.10 L118.81 308.80 L119.71 308.49 L120.61 308.17 L121.50 307.84 L122.40 307.49 L123.30 307.13 L124.19 306.75 L125.09 306.36 L125.99 305.96 L126.89 305.53 L127.78 305.09 L128.68 304.61 L129.58 304.12 L130.48 303.60 L131.38 303.06 L132.27 302.49 L133.17 301.91 L134.07 301.30 L134.97 300.68 L135.86 300.04 L136.76 299.38 L137.66 298.68 L138.56 297.93 L139.45 297.13 L140.35 296.29 L141.25 295.40 L142.15 294.48 L143.04 293.52 L143.94 292.51 L144.84 291.43 L145.74 290.24 L146.63 288.90 L147.53 287.28 L148.43 285.41 L149.32 283.42 L150.22 281.45 L151.12 279.61 L152.02 277.84 L152.91 276.09 L153.81 274.31 L154.71 272.48 L155.61 270.60 L156.50 268.69 L157.40 266.69 L158.30 264.54 L159.20 262.20 L160.09 259.68 L160.99 257.03 L161.89 254.30 L162.79 251.46 L163.69 248.46 L164.58 245.38 L165.48 242.28 L166.38 239.26 L167.28 236.29 L168.17 233.31 L169.07 230.35 L169.97 227.39 L170.87 224.44 L171.76 221.50 L172.66 218.57 L173.56 215.65 L174.45 212.74 L175.35 209.84 L176.25 206.95 L177.15 204.07 L177.33 203.50 L178.05 200.91 L178.94 197.67 L179.84 194.44 L180.74 191.23 L181.63 188.03 L182.53 184.86 L183.43 181.71 L184.33 178.59 L185.22 175.51 L186.12 172.46 L187.02 169.44 L187.92 166.47 L188.81 163.54 L189.71 160.66 L190.61 157.82 L191.51 155.04 L192.41 152.30 L193.30 149.62 L194.20 146.98 L195.10 144.41 L196.00 141.88 L196.89 139.41 L197.79 137.00 L198.69 134.64 L199.58 132.34 L200.48 130.10 L201.38 127.91 L202.28 125.77 L203.18 123.69 L204.07 121.67 L204.97 119.70 L205.87 117.78 L206.76 115.92 L207.66 114.10 L208.56 112.34 L209.46 110.63 L210.36 108.97 L211.25 107.36 L212.15 105.80 L213.05 104.28 L213.94 102.81 L214.84 101.38 L215.74 100.00 L216.64 98.66 L217.53 97.37 L218.43 96.11 L219.33 94.89 L220.23 93.72 L221.12 92.58 L222.02 91.48 L222.92 90.41 L223.82 89.38 L224.72 88.38 L225.61 87.42 L226.51 86.49 L227.41 85.59 L228.31 84.72 L229.20 83.88 L230.10 83.06 L231.00 82.28 L231.89 81.52 L232.79 80.79 L233.69 80.08 L234.59 79.40 L235.49 78.74 L236.38 78.10 L237.28 77.49 L238.18 76.90 L239.07 76.33 L239.97 75.78 L240.87 75.24 L241.77 74.73 L242.67 74.23 L243.56 73.76 L244.46 73.30 L245.36 72.85 L246.25 72.42 L247.15 72.01 L248.05 71.61 L248.95 71.23 L249.84 70.86 L250.74 70.50 L251.64 70.15 L252.54 69.82 L253.44 69.50 L254.33 69.19 L255.23 68.90 L256.13 68.61 L257.02 68.33 L257.92 68.07 L258.82 67.81 L259.72 67.56 L260.62 67.33 L261.51 67.10 L262.41 66.87 L263.31 66.66 L264.20 66.46 L265.10 66.26 L266.00 66.07 L266.90 65.88 L267.80 65.71 L268.69 65.54 L269.59 65.37 L270.49 65.21 L271.38 65.06 L272.28 64.91 L273.18 64.77 L274.08 64.64 L274.98 64.51 L275.87 64.38 L276.77 64.26 L277.67 64.14 L278.56 64.03 L279.46 63.92 L280.36 63.81 L281.26 63.71 L282.15 63.62 L283.05 63.52 L283.95 63.43 L284.85 63.35 L285.75 63.26 L286.64 63.18 L287.54 63.10 L288.44 63.03 L289.33 62.96 L290.23 62.89 L291.13 62.82 L292.03 62.76 L292.93 62.70 L293.82 62.64 L294.72 62.58 L295.62 62.52 L296.51 62.47 L297.41 62.42 L298.31 62.37 L299.21 62.32 L300.11 62.28 L301.00 62.23 L301.90 62.19 L302.80 62.15 L303.69 62.11 L304.59 62.07 L305.49 62.04 L306.39 62.00 L307.28 61.97 L308.18 61.93 L309.08 61.90 L309.98 61.87 L310.88 61.84 L311.77 61.82 L312.67 61.79 L313.57 61.76 L314.46 61.74 L315.36 61.71 L316.26 61.69 L317.16 61.67 L318.06 61.65 L318.95 61.63 L319.85 61.61 L320.75 61.59 L321.64 61.57 L322.54 61.55 L323.44 61.53 L324.34 61.52 L325.24 61.50 L326.13 61.49 L327.03 61.47 L327.93 61.46 L328.82 61.44 L329.72 61.43 L330.62 61.42 L331.52 61.41 L332.42 61.39 L333.31 61.38 L334.21 61.37 L335.11 61.36 L336.00 61.35 L336.90 61.34 L337.80 61.33 L338.70 61.32 L339.59 61.31 L340.49 61.31 L341.39 61.30 L342.29 61.29 L343.19 61.28 L344.08 61.28 L344.98 61.27 L345.88 61.26 L346.77 61.26 L347.67 61.25 L348.57 61.24 L349.47 61.24 L350.37 61.23 L351.26 61.23 L352.16 61.22 L353.06 61.22 L353.95 61.21 L354.85 61.21 L355.75 61.20 L356.65 61.20 L357.55 61.20 L358.44 61.19 L359.34 61.19 L360.24 61.18 L361.13 61.18 L362.03 61.18 L362.93 61.17 L363.83 61.17 L364.72 61.17 L365.62 61.17 L366.52 61.16 L367.42 61.16 L368.31 61.16 L369.21 61.16 L370.11 61.15 L371.01 61.15 L371.90 61.15 L372.80 61.15 L373.70 61.14 L374.60 61.14 L375.50 61.14 L376.39 61.14 L377.29 61.14 L378.19 61.14 L379.08 61.13 L379.98 61.13 L380.88 61.13 L381.78 61.13 L382.67 61.13 L383.57 61.13 L384.47 61.12 L385.37 61.12 L386.26 61.12 L387.16 61.12 L388.06 61.12 L388.96 61.12 L389.85 61.12 L390.75 61.12 L391.65 61.12 L392.55 61.12 L393.44 61.11 L394.34 61.11 L395.24 61.11 L396.14 61.11 L397.03 61.11 L397.93 61.11 L398.83 61.11 L399.73 61.11 L400.62 61.11 L401.52 61.11 L402.42 61.11 L403.32 61.11 L404.21 61.11 L405.11 61.11 L406.01 61.10 L406.91 61.10 L407.80 61.10 L408.70 61.10 L409.60 61.10 L410.50 61.10 L411.39 61.10 L412.29 61.10 L413.19 61.10 L414.09 61.10 L414.98 61.10 L415.88 61.10 L416.78 61.10 L417.68 61.10 L418.57 61.10 L419.47 61.10 L420.37 61.10 L421.27 61.10 L422.16 61.10 L423.06 61.10 L423.96 61.10 L424.86 61.10 L425.75 61.10 L426.65 61.10 L427.55 61.10 L428.45 61.10 L429.34 61.10 L430.24 61.10 L431.14 61.10 L432.04 61.10 L432.94 61.10 L433.83 61.10 L434.73 61.10 L435.63 61.10 L436.52 61.10 L437.42 61.10 L438.32 61.09 L439.22 61.09 L440.11 61.09 L441.01 61.09 L441.91 61.09 L442.81 61.09 L443.70 61.09 L444.60 61.09 L445.50 61.09 L446.40 61.09 L447.29 61.09 L448.19 61.09 L449.09 61.09 L449.99 61.09 L450.88 61.09 L451.78 61.09 L452.68 61.09 L453.58 61.09 L454.47 61.09 L455.37 61.09 L456.27 61.09 L457.17 61.09 L458.06 61.09 L458.96 61.09 L459.86 61.09 L460.76 61.09 L461.65 61.09 L462.55 61.09 L463.45 61.09" stroke="#98c8bd" stroke-opacity="1" stroke-width="2.08" stroke-dasharray="7.7 3.33"/>
<path d="M173.5 330.5 V15.5" stroke="#787878" stroke-width="1.3" stroke-dasharray="5.14 2.22"/>
</g>
<rect x="86.5" y="15.5" width="395.0" height="315.0" fill="none" stroke="#000" stroke-width="1.11"/>
<g font-family="DejaVu Sans, Liberation Sans, sans-serif" font-size="22.22" fill="#000">
<text x="103.65" y="355.8" text-anchor="middle">0</text>
<text x="175.45" y="355.8" text-anchor="middle">20</text>
<text x="247.25" y="355.8" text-anchor="middle">40</text>
<text x="319.05" y="355.8" text-anchor="middle">60</text>
<text x="390.85" y="355.8" text-anchor="middle">80</text>
<text x="462.65" y="355.8" text-anchor="middle">100</text>
<text x="75.9" y="323.50" text-anchor="end">0.0</text>
<text x="75.9" y="265.54" text-anchor="end">0.2</text>
<text x="75.9" y="207.58" text-anchor="end">0.4</text>
<text x="75.9" y="149.62" text-anchor="end">0.6</text>
<text x="75.9" y="91.66" text-anchor="end">0.8</text>
<text x="75.9" y="33.70" text-anchor="end">1.0</text>
</g>
<g font-family="DejaVu Sans, Liberation Sans, sans-serif" font-size="22.22" fill="#000">
<text x="283.4" y="381.7" text-anchor="middle">Time</text>
<text transform="translate(30.5 172.9) rotate(-90)" text-anchor="middle" letter-spacing="0.12">Population Fraction</text>
</g>
<rect x="338.5" y="83.7" width="133.9" height="177.2" rx="3.9" ry="3.9" fill="#fff" fill-opacity="0.8" stroke="#ccc" stroke-opacity="0.8" stroke-width="1.2"/>
<path d="M346.0 99.00 h38.9" stroke="#6e9cdc" stroke-width="2.08" stroke-linecap="square" fill="none"/>
<text x="401.3" y="105.90" font-family="DejaVu Sans, Liberation Sans, sans-serif" font-size="19.44" fill="#000">True S</text>
<path d="M346.0 127.76 h38.9" stroke="#e65c58" stroke-width="2.08" stroke-linecap="square" fill="none"/>
<text x="401.3" y="134.66" font-family="DejaVu Sans, Liberation Sans, sans-serif" font-size="19.44" fill="#000">True I</text>
<path d="M346.0 156.52 h38.9" stroke="#58a394" stroke-width="2.08" stroke-linecap="square" fill="none"/>
<text x="401.3" y="163.42" font-family="DejaVu Sans, Liberation Sans, sans-serif" font-size="19.44" fill="#000">True R</text>
<path d="M346.0 185.28 h38.9" stroke="#a8c4ea" stroke-opacity="1" stroke-width="2.08" stroke-dasharray="7.7 3.33" fill="none"/>
<text x="401.3" y="192.18" font-family="DejaVu Sans, Liberation Sans, sans-serif" font-size="19.44" fill="#000">Pred S</text>
<path d="M346.0 214.04 h38.9" stroke="#f09d99" stroke-opacity="1" stroke-width="2.08" stroke-dasharray="7.7 3.33" fill="none"/>
<text x="401.3" y="220.94" font-family="DejaVu Sans, Liberation Sans, sans-serif" font-size="19.44" fill="#000">Pred I</text>
<path d="M346.0 242.80 h38.9" stroke="#98c8bd" stroke-opacity="1" stroke-width="2.08" stroke-dasharray="7.7 3.33" fill="none"/>
<text x="401.3" y="249.70" font-family="DejaVu Sans, Liberation Sans, sans-serif" font-size="19.44" fill="#000">Pred R</text>
</svg>
</body></html>
